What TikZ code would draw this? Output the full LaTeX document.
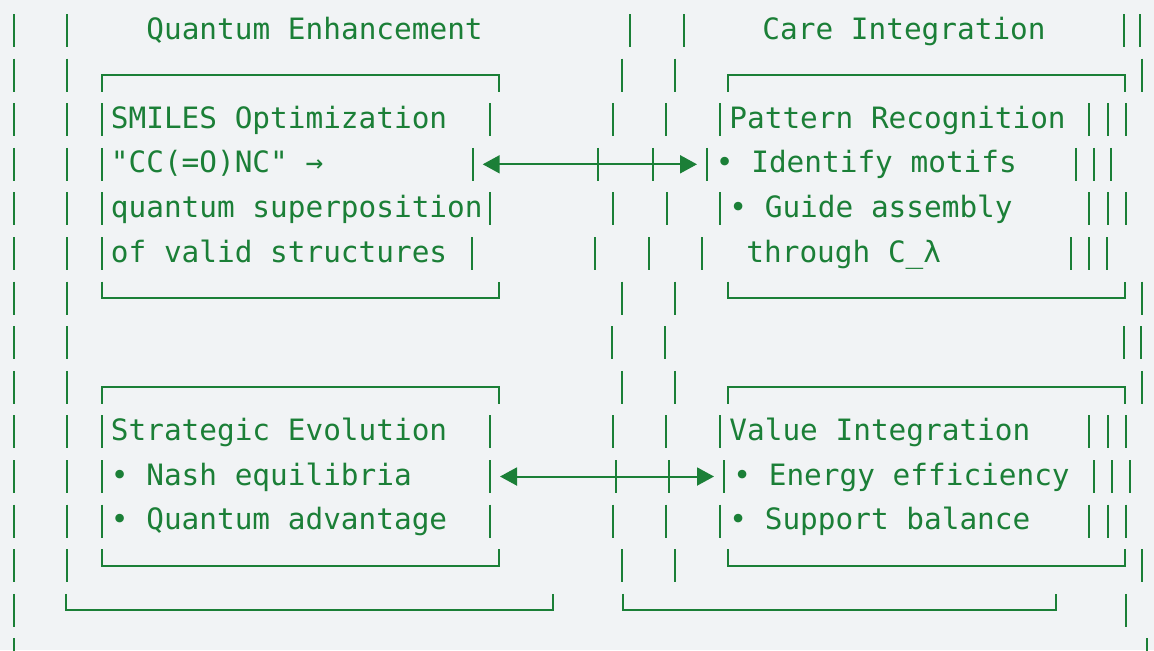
\documentclass[tikz,border=0pt]{standalone}
\usepackage{fontspec}
\setmonofont{DejaVu Sans Mono}
\usetikzlibrary{arrows.meta}
\definecolor{figG}{HTML}{1B7F37}
\definecolor{figBg}{HTML}{F1F3F5}
\begin{document}
\begin{tikzpicture}[x=0.5pt,y=-0.5pt,>={Triangle[length=8.5pt,width=9pt]},
  gline/.style={figG,line width=1pt},
  txt/.style={figG,anchor=base west,inner sep=0pt,font=\ttfamily\fontsize{14.7pt}{17pt}\selectfont}]
\fill[figBg] (0,0) rectangle (1154,650);
\useasboundingbox (0,0) rectangle (1154,650);
% bars, one row at a time
\foreach \x in {14,67,630,684,1124,1140} \draw[gline] (\x,14) -- ++(0,33);
\foreach \x in {14,67,622,675,1142} \draw[gline] (\x,58.6) -- ++(0,33);
\foreach \x in {14,67,102,490,613,666,720,1089,1108,1126} \draw[gline] (\x,103.2) -- ++(0,33);
\foreach \x in {14,67,102,473,598,653,707,1076,1094,1111} \draw[gline] (\x,147.8) -- ++(0,33);
\foreach \x in {14,67,102,490,613,667,720,1089,1108,1126} \draw[gline] (\x,192.4) -- ++(0,33);
\foreach \x in {14,67,102,472,595,649,702,1071,1089,1107} \draw[gline] (\x,237) -- ++(0,33);
\foreach \x in {14,67,622,675,1142} \draw[gline] (\x,281.6) -- ++(0,33);
\foreach \x in {14,67,612,665,1124,1141} \draw[gline] (\x,326.2) -- ++(0,33);
\foreach \x in {14,67,622,675,1142} \draw[gline] (\x,370.8) -- ++(0,33);
\foreach \x in {14,67,102,490,613,666,720,1089,1108,1126} \draw[gline] (\x,415.4) -- ++(0,33);
\foreach \x in {14,67,102,490,616,669,724,1094,1112,1130} \draw[gline] (\x,460) -- ++(0,33);
\foreach \x in {14,67,102,490,613,666,720,1089,1108,1126} \draw[gline] (\x,504.6) -- ++(0,33);
\foreach \x in {14,67,622,675,1142} \draw[gline] (\x,549.2) -- ++(0,33);
\foreach \x in {14,1126} \draw[gline] (\x,593.8) -- ++(0,33);
\foreach \x in {14,1147} \draw[gline] (\x,638.4) -- ++(0,33);
% boxes
\draw[gline] (102,91.6) |- (499,75.1) -- (499,91.6);
\draw[gline] (102,281.6) |- (499,298.1) -- (499,281.6);
\draw[gline] (728,91.6) |- (1125,75.1) -- (1125,91.6);
\draw[gline] (728,281.6) |- (1125,298.1) -- (1125,281.6);
\draw[gline] (102,403.8) |- (499,387.3) -- (499,403.8);
\draw[gline] (102,549.2) |- (499,565.7) -- (499,549.2);
\draw[gline] (728,403.8) |- (1125,387.3) -- (1125,403.8);
\draw[gline] (728,549.2) |- (1125,565.7) -- (1125,549.2);
\draw[gline] (66,593.8) |- (553,609.5) -- (553,593.8);
\draw[gline] (623,593.8) |- (1056,609.5) -- (1056,593.8);
% titles
\node[txt] (qe-title) at (146,39) {Quantum Enhancement};
\node[txt] (ci-title) at (762,39) {Care Integration};
% upper boxes
\node[txt] (smiles-1) at (110.5,128.2) {SMILES Optimization};
\node[txt] (smiles-2) at (110.5,172.8) {"CC(=O)NC" →};
\node[txt] (smiles-3) at (110.5,217.4) {quantum superposition};
\node[txt] (smiles-4) at (110.5,262) {of valid structures};
\node[txt] (pattern-1) at (729,128.2) {Pattern Recognition};
\node[txt] (pattern-2) at (715.5,172.8) {• Identify motifs};
\node[txt] (pattern-3) at (729,217.4) {• Guide assembly};
\node[txt] (pattern-4) at (746,262) {through C\_λ};
% lower boxes
\node[txt] (strat-1) at (110.5,440.4) {Strategic Evolution};
\node[txt] (strat-2) at (110.5,485) {• Nash equilibria};
\node[txt] (strat-3) at (110.5,529.6) {• Quantum advantage};
\node[txt] (value-1) at (729,440.4) {Value Integration};
\node[txt] (value-2) at (733,485) {• Energy efficiency};
\node[txt] (value-3) at (729,529.6) {• Support balance};
% links
\coordinate (smiles-e) at (482.7,164.3);
\coordinate (pattern-w) at (697,164.3);
\coordinate (strat-e) at (500,476.5);
\coordinate (value-w) at (714,476.5);
\draw[<->,gline] (smiles-e) -- (pattern-w);
\draw[<->,gline] (strat-e) -- (value-w);
\end{tikzpicture}
\end{document}
